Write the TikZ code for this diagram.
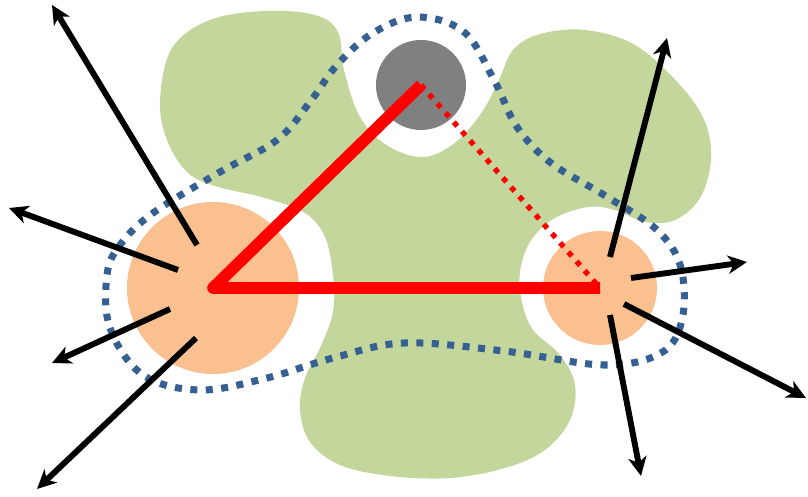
\documentclass[tikz,border=0pt]{standalone}
\usetikzlibrary{arrows.meta}
\definecolor{leaf}{RGB}{195,214,155}
\definecolor{peach}{RGB}{250,192,144}
\definecolor{steel}{RGB}{55,96,146}
\tikzset{
  kcell/.style={circle, fill=peach, inner sep=0pt},
  kcore/.style={circle, fill=black!50, inner sep=0pt},
  kzone/.style={draw=steel, line width=5pt, dash pattern=on 5pt off 6pt},
  ktri/.style={draw=red, line width=8.4pt, line join=round},
  klink/.style={draw=red, line width=3.8pt, dash pattern=on 3.8pt off 5pt},
  flow/.style={-{Stealth[length=13.5pt, width=13pt, inset=4pt]}, line width=4.2pt},
}

\begin{document}
\begin{tikzpicture}[x=0.025cm, y=-0.025cm]
    \useasboundingbox (0,0) rectangle (808,497);
    % green tissue with white gaps round the cells
    \fill[leaf] plot[smooth cycle, tension=0.6] coordinates {
      (160,100) (172,48) (210,20) (265,11) (315,15) (338,32) (344,70) (360,117)
      (388,146) (424,157) (456,142) (482,112) (499,80) (513,50) (540,34) (585,30)
      (635,45) (680,85) (705,122) (711,160) (700,198) (675,220) (645,222) (615,210)
      (588,207) (553,219) (530,242) (520,272) (522,302) (533,330) (560,355) (575,385)
      (570,420) (545,450) (505,468) (450,478) (390,476) (340,465) (310,442) (300,410)
      (305,378) (320,348) (333,312) (333,275) (325,237) (305,213) (265,198) (215,186)
      (187,172) (167,140)};
    % dotted zone
    \path[kzone] plot[smooth cycle, tension=0.6] coordinates {
      (107,275) (110,328) (143,375) (200,390) (267,378) (333,358) (404,343) (504,351)
      (604,365) (661,353) (682,320) (681,268) (657,230) (604,195) (551,163) (517,127)
      (494,80) (464,32) (417,17) (373,33) (337,65) (310,102) (277,140) (220,172)
      (153,213) (120,245)};
    % cells
    \node[kcell, minimum size=4.3cm] (lcell) at (213,288) {};
    \node[kcell, minimum size=2.85cm] (rcell) at (600,288) {};
    \node[kcore, minimum size=2.25cm] (core) at (421,85) {};
    % triangle
    \path[ktri] (core.center) -- (lcell.center) -- (rcell.center);
    \path[klink] (core.center) -- (rcell.center);
    % arrows out of the left cell
    \coordinate (la1) at (197,245); \coordinate (lb1) at (52,5);
    \coordinate (la2) at (178,270); \coordinate (lb2) at (9,208);
    \coordinate (la3) at (170,309); \coordinate (lb3) at (52,363);
    \coordinate (la4) at (196,338); \coordinate (lb4) at (37,489);
    \draw[flow] (la1) -- (lb1);
    \draw[flow] (la2) -- (lb2);
    \draw[flow] (la3) -- (lb3);
    \draw[flow] (la4) -- (lb4);
    % arrows out of the right cell
    \coordinate (ra1) at (610,257); \coordinate (rb1) at (667,38);
    \coordinate (ra2) at (631,278); \coordinate (rb2) at (747,262);
    \coordinate (ra3) at (624,304); \coordinate (rb3) at (806,398);
    \coordinate (ra4) at (610,315); \coordinate (rb4) at (641,476);
    \draw[flow] (ra1) -- (rb1);
    \draw[flow] (ra2) -- (rb2);
    \draw[flow] (ra3) -- (rb3);
    \draw[flow] (ra4) -- (rb4);
  \end{tikzpicture}
\end{document}
